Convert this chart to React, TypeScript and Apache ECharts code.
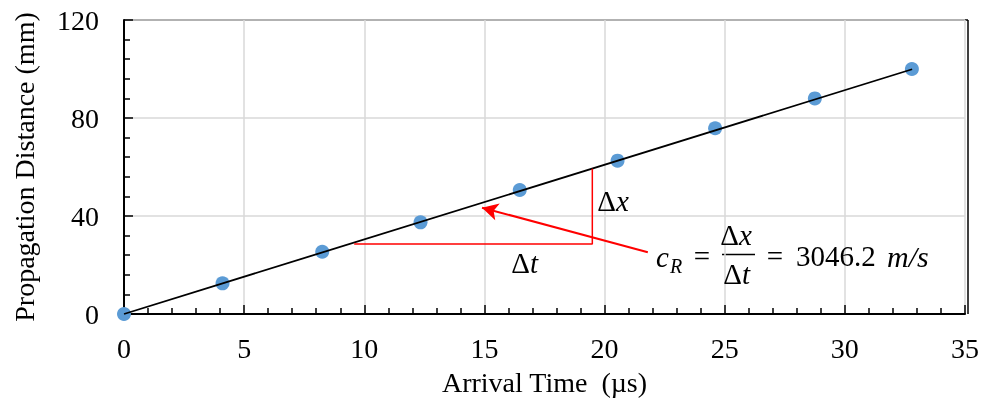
import React, { useEffect, useRef } from "react";
import * as echarts from "echarts";

const arrivalTime = [0, 4.1, 8.25, 12.34, 16.47, 20.54, 24.6, 28.75, 32.79];
const distance = [0, 12.5, 25.4, 37.4, 50.6, 62.6, 75.8, 88.0, 100];
const fitX = [0, 32.8];
const fitY = [0, 99.9];
const triX = [9.58, 19.49, 19.49];
const triY = [28.6, 28.6, 59.3];
const arrowFrom = [21.8, 25.2];
const arrowTo = [14.9, 43.4];
const xTicks = { min: 0, max: 35, interval: 5 };
const yTicks = { min: 0, max: 120, interval: 40 };

const SERIF = "Liberation Serif";

function txt(text: string, x: number, y: number, align: string, size = 29, italic = false) {
  return {
    type: "text",
    x,
    y,
    z: 100,
    style: {
      text,
      fontFamily: SERIF,
      fontSize: size,
      fontStyle: italic ? "italic" : "normal",
      fill: "#000",
      align,
      verticalAlign: "middle",
    },
  };
}

export default function App() {
  const ref = useRef<HTMLDivElement>(null);
  useEffect(() => {
    if (!ref.current) return;
    const chart = echarts.init(ref.current, undefined, { renderer: "svg" });
    chart.setOption({
      animation: false,
      grid: { left: 124, right: 14, top: 20, bottom: 91 },
      xAxis: {
        type: "value",
        min: xTicks.min,
        max: xTicks.max,
        interval: xTicks.interval,
        name: "Arrival Time  (\u00b5s)",
        nameLocation: "middle",
        nameGap: 54,
        nameTextStyle: { fontFamily: SERIF, fontSize: 28, color: "#000" },
        axisLine: { show: true, lineStyle: { color: "#000", width: 2 } },
        axisTick: { show: true, inside: true, length: 9, lineStyle: { color: "#000", width: 1.5 } },
        minorTick: { show: true, splitNumber: 5, length: 6, lineStyle: { color: "#000", width: 1.5 } },
        axisLabel: { fontFamily: SERIF, fontSize: 28, color: "#000", margin: 20 },
        splitLine: { show: true, lineStyle: { color: "#d9d9d9", width: 1.5 } },
      },
      yAxis: {
        type: "value",
        min: yTicks.min,
        max: yTicks.max,
        interval: yTicks.interval,
        name: "Propagation Distance (mm)",
        nameLocation: "middle",
        nameGap: 86,
        nameTextStyle: { fontFamily: SERIF, fontSize: 28, color: "#000" },
        axisLine: { show: true, lineStyle: { color: "#000", width: 2 } },
        axisTick: { show: true, inside: true, length: 9, lineStyle: { color: "#000", width: 1.5 } },
        minorTick: { show: true, splitNumber: 5, length: 6, lineStyle: { color: "#000", width: 1.5 } },
        axisLabel: { fontFamily: SERIF, fontSize: 28, color: "#000", margin: 25 },
        splitLine: { show: true, lineStyle: { color: "#d9d9d9", width: 1.5 } },
      },
      series: [
        {
          type: "scatter",
          name: "data",
          data: arrivalTime.map((t, i) => [t, distance[i]]),
          symbol: "circle",
          symbolSize: 14,
          itemStyle: { color: "#5b9bd5", opacity: 1 },
          z: 3,
        },
        {
          type: "line",
          name: "fit",
          data: fitX.map((t, i) => [t, fitY[i]]),
          showSymbol: false,
          symbol: "none",
          lineStyle: { color: "#000", width: 1.8 },
          z: 4,
        },
        {
          type: "line",
          name: "triangle",
          data: triX.map((t, i) => [t, triY[i]]),
          showSymbol: false,
          symbol: "none",
          lineStyle: { color: "#ff0000", width: 1.5 },
          z: 5,
          markLine: {
            silent: true,
            symbol: ["none", "arrow"],
            symbolSize: [13, 16],
            label: { show: false },
            lineStyle: { color: "#ff0000", width: 2, type: "solid" },
            data: [[{ coord: arrowFrom }, { coord: arrowTo }]],
          },
        },
      ],
      graphic: [
        // plot frame (top and right borders)
        { type: "line", shape: { x1: 124, y1: 20, x2: 968, y2: 20 }, style: { stroke: "#000", lineWidth: 1.5 } },
        { type: "line", shape: { x1: 968, y1: 20, x2: 968, y2: 314 }, style: { stroke: "#000", lineWidth: 1.5 } },
        // Δx label
        txt("\u0394", 616, 201, "right"),
        txt("x", 616, 201, "left", 29, true),
        // Δt label
        txt("\u0394", 530, 263, "right"),
        txt("t", 530, 263, "left", 29, true),
        // c_R
        txt("c", 656, 257, "left", 29, true),
        txt("R", 670, 266, "left", 20, true),
        txt("=", 702, 256, "center"),
        txt("\u0394", 739, 235, "right"),
        txt("x", 739, 235, "left", 29, true),
        { type: "line", shape: { x1: 722, y1: 254.5, x2: 755, y2: 254.5 }, style: { stroke: "#000", lineWidth: 1.5 } },
        txt("\u0394", 742, 274, "right"),
        txt("t", 742, 274, "left", 29, true),
        txt("=", 775, 256, "center"),
        txt("3046.2", 796, 256, "left"),
        txt("m/s", 887, 256, "left", 30, true),
      ],
    });
    return () => chart.dispose();
  }, []);
  return <div ref={ref} style={{ position: "fixed", left: 0, top: 0, width: 982, height: 405 }} />;
}
